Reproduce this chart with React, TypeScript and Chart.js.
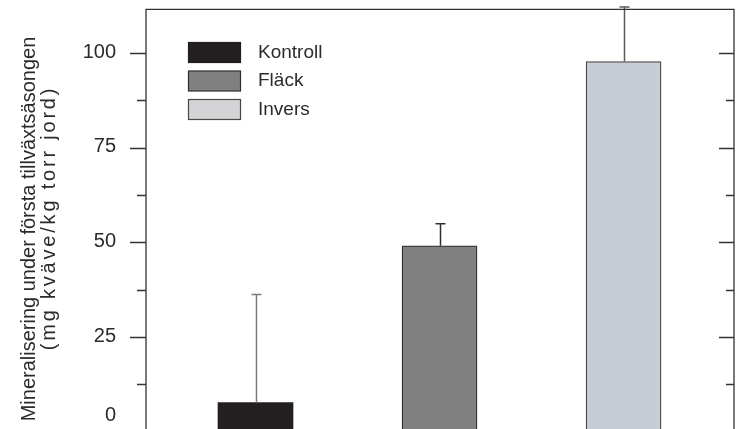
import React, { useEffect, useRef } from "react";
import { Chart, registerables } from "chart.js";

Chart.register(...registerables);

// Treatments, their x positions, mean mineralisation and error (one-sided, upward)
const categories = ["Kontroll", "Fläck", "Invers"];
const positions = [1, 2, 3];
const means = [7.7, 49.1, 97.8];
const errors = [28.5, 5.8, 14.4];

// Y axis ticks
const yMajorTicks = [0, 25, 50, 75, 100];
const yMinorTicks = [12.5, 37.5, 62.5, 87.5];
const yTitleLines = ["Mineralisering under första tillväxtsäsongen", "(mg kväve/kg torr jord)"];

// Styling
const barFills = ["#231f20", "#808080", "#c8ccd4"];
const barBorders = ["#231f20", "#2e2e2e", "#474747"];
const legendFills = ["#231f20", "#808080", "#d4d4d6"];
const errorColors = ["#7a7a7a", "#2e2e2e", "#5a5a5a"];
const FONT = "'Liberation Sans', Arial, sans-serif";
const TEXT = "#2b2b2b";
const AXIS = "#333333";

const VIEW_W = 736;
const VIEW_H = 429;
const CANVAS_H = 440;

const decorPlugin = {
  id: "decor",
  afterDatasetsDraw(chart: any) {
    const ctx = chart.ctx;
    const xs = chart.scales.x;
    const ys = chart.scales.y;
    ctx.save();
    means.forEach((m, i) => {
      const px = Math.round(xs.getPixelForValue(positions[i])) + 0.5;
      const base = ys.getPixelForValue(m);
      const top = ys.getPixelForValue(m + errors[i]);
      ctx.strokeStyle = errorColors[i];
      ctx.lineWidth = 1.5;
      ctx.beginPath();
      ctx.moveTo(px, base);
      ctx.lineTo(px, top);
      ctx.moveTo(px - 5, top);
      ctx.lineTo(px + 5, top);
      ctx.stroke();
    });
    ctx.restore();
  },
  afterDraw(chart: any) {
    const ctx = chart.ctx;
    const ys = chart.scales.y;
    const { left, right, top, bottom } = chart.chartArea;
    ctx.save();

    // frame (left, top, right)
    ctx.strokeStyle = AXIS;
    ctx.lineWidth = 1.3;
    ctx.beginPath();
    ctx.moveTo(left, bottom);
    ctx.lineTo(left, top);
    ctx.lineTo(right, top);
    ctx.lineTo(right, bottom);
    ctx.stroke();

    // tick marks: outside on the left, inside on the right
    const tick = (v: number, lenL: number, lenR: number) => {
      const py = Math.round(ys.getPixelForValue(v)) + 0.5;
      ctx.beginPath();
      ctx.moveTo(left - lenL, py);
      ctx.lineTo(left, py);
      ctx.moveTo(right - lenR, py);
      ctx.lineTo(right, py);
      ctx.stroke();
    };
    yMajorTicks.forEach((v) => tick(v, 16, 15));
    yMinorTicks.forEach((v) => tick(v, 9, 8));

    // tick labels
    ctx.fillStyle = TEXT;
    ctx.font = `20px ${FONT}`;
    ctx.textAlign = "right";
    ctx.textBaseline = "middle";
    yMajorTicks.forEach((v) => {
      const py = Math.min(ys.getPixelForValue(v) - 1, VIEW_H - 14);
      ctx.fillText(String(v), 116, py);
    });

    // axis title, two rotated lines
    ctx.textAlign = "center";
    ctx.textBaseline = "alphabetic";
    const titleX = [34.5, 55];
    const titleY = [229, 218];
    const titleSpacing = ["0px", "2.8px"];
    yTitleLines.forEach((line, i) => {
      ctx.save();
      ctx.translate(titleX[i], titleY[i]);
      ctx.rotate(-Math.PI / 2);
      (ctx as any).letterSpacing = titleSpacing[i];
      ctx.fillText(line, 0, 0);
      ctx.restore();
    });

    // legend
    ctx.font = `19px ${FONT}`;
    ctx.textAlign = "left";
    ctx.textBaseline = "middle";
    categories.forEach((c, i) => {
      const bx = 188.5;
      const by = 42.5 + i * 28.5;
      ctx.fillStyle = legendFills[i];
      ctx.fillRect(bx, by, 52, 20);
      ctx.strokeStyle = barBorders[i];
      ctx.lineWidth = 1.2;
      ctx.strokeRect(bx, by, 52, 20);
      ctx.fillStyle = TEXT;
      ctx.fillText(c, 258, by + 10);
    });

    ctx.restore();
  },
};

export default function App() {
  const ref = useRef<HTMLCanvasElement | null>(null);

  useEffect(() => {
    if (!ref.current) return;
    const chart = new Chart(ref.current, {
      type: "bar",
      data: {
        datasets: categories.map((c, i) => ({
          label: c,
          data: [{ x: positions[i], y: means[i] }],
          backgroundColor: barFills[i],
          borderColor: barBorders[i],
          borderWidth: i === 0 ? 0 : 1.3,
          barThickness: 75,
          grouped: false,
        })),
      },
      options: {
        responsive: false,
        animation: false,
        devicePixelRatio: 1,
        layout: { padding: { left: 146, right: 2, top: 9.3, bottom: CANVAS_H - 431.6 } },
        plugins: { legend: { display: false }, tooltip: { enabled: false }, title: { display: false } },
        scales: {
          x: { type: "linear", min: 0.405, max: 3.6, offset: false, display: false },
          y: { type: "linear", min: 0, max: 111.6, display: false },
        },
      },
      plugins: [decorPlugin],
    } as any);
    return () => chart.destroy();
  }, []);

  return (
    <div
      style={{
        position: "fixed",
        left: 0,
        top: 0,
        width: VIEW_W,
        height: VIEW_H,
        overflow: "hidden",
        background: "#ffffff",
      }}
    >
      <canvas ref={ref} width={VIEW_W} height={CANVAS_H} style={{ display: "block" }} />
    </div>
  );
}
